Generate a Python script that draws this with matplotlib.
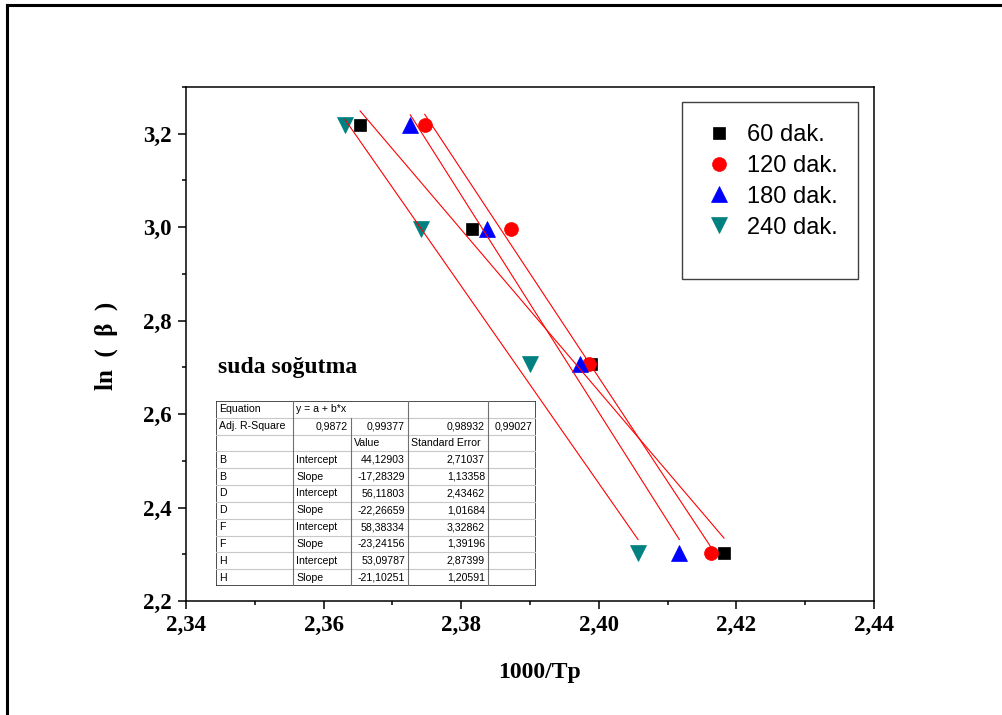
import matplotlib
matplotlib.use("Agg")
import matplotlib.pyplot as plt
import numpy as np
from matplotlib.lines import Line2D
from matplotlib.patches import Rectangle
from matplotlib.ticker import FuncFormatter, MultipleLocator

W, H = 1003, 715

# ln(beta) for the four heating rates
ln_beta = [3.2189, 2.9957, 2.7081, 2.3026]

# 1000/Tp, one list per cooling time
x_60 = [2.3653, 2.3815, 2.3988, 2.4182]
x_120 = [2.3747, 2.3872, 2.3986, 2.4163]
x_180 = [2.3726, 2.3837, 2.3973, 2.4117]
x_240 = [2.3631, 2.3741, 2.3900, 2.4057]

labels = ["60 dak.", "120 dak.", "180 dak.", "240 dak."]

# linear fit results (Origin table)
fit_names = ["B", "D", "F", "H"]
intercepts = [44.12903, 56.11803, 58.38334, 53.09787]
slopes = [-17.28329, -22.26659, -23.24156, -21.10251]
intercept_se = [2.71037, 2.43462, 3.32862, 2.87399]
slope_se = [1.13358, 1.01684, 1.39196, 1.20591]
adj_r2 = ["0,9872", "0,99377", "0,98932", "0,99027"]


def comma(v, fmt):
    return fmt.format(v).replace(".", ",")


def px_fig(x, y):
    return x / W, 1 - y / H


fig = plt.figure(figsize=(W / 100, H / 100), dpi=100)
ax = fig.add_axes([186 / W, 1 - 601 / H, 688 / W, 514 / H])

series = [
    (x_60, "s", "black", 8.6),
    (x_120, "o", "red", 10.0),
    (x_180, "^", "blue", 11.0),
    (x_240, "v", "#008080", 11.0),
]

handles = []
for (xs, mk, col, ms), lab in zip(series, labels):
    h, = ax.plot(xs, ln_beta, linestyle="none", marker=mk, color=col,
                 markersize=ms, markeredgewidth=0.5, label=lab, zorder=3)
    handles.append(h)

# fit lines over each series' x range
for (xs, mk, col, ms), a, b in zip(series, intercepts, slopes):
    xx = np.array([min(xs), max(xs)])
    ax.plot(xx, a + b * xx, color="red", linewidth=0.8, zorder=4)

ax.set_xlim(2.34, 2.44)
ax.set_ylim(2.2, 3.3)
ax.xaxis.set_major_locator(MultipleLocator(0.02))
ax.xaxis.set_minor_locator(MultipleLocator(0.01))
ax.yaxis.set_major_locator(MultipleLocator(0.2))
ax.yaxis.set_minor_locator(MultipleLocator(0.1))
ax.xaxis.set_major_formatter(FuncFormatter(lambda v, p: comma(v, "{:.2f}")))
ax.yaxis.set_major_formatter(FuncFormatter(lambda v, p: comma(v, "{:.1f}")))

ax.tick_params(which="both", direction="out", top=False, right=False, width=1.1)
ax.tick_params(which="major", length=6, labelsize=16.5, pad=4)
ax.tick_params(which="minor", length=3)
for lab in ax.get_xticklabels() + ax.get_yticklabels():
    lab.set_family("Liberation Serif")
    lab.set_fontweight("bold")
for sp in ax.spines.values():
    sp.set_linewidth(1.1)

ax.set_xlabel("1000/Tp", family="Liberation Serif", fontweight="bold", fontsize=17)
ax.set_ylabel("ln  (  β  )", family="Liberation Serif", fontweight="bold", fontsize=18)
ax.xaxis.set_label_coords(0.5145, -0.118)
ax.yaxis.set_label_coords(-0.099, 0.496)

# legend box
lx0, ly0 = px_fig(682, 279)
lx1, ly1 = px_fig(858, 102)
fig.add_artist(Rectangle((lx0, ly0), lx1 - lx0, ly1 - ly0, transform=fig.transFigure,
                         facecolor="white", edgecolor="#404040", linewidth=1.0, zorder=5))
leg = fig.legend(handles=handles, loc="upper left", bbox_to_anchor=px_fig(693, 112),
                 frameon=False, prop={"family": "Liberation Sans", "size": 17},
                 handlelength=1.2, handletextpad=0.6, labelspacing=0.38,
                 borderpad=0.0)
leg.set_zorder(6)

fx, fy = px_fig(218, 373)
fig.text(fx, fy, "suda soğutma", family="Liberation Serif", fontweight="bold",
         fontsize=17, va="baseline", ha="left")

# fit results table
tab = fig.add_axes([216 / W, 1 - 586 / H, 320 / W, 185 / H])
tab.set_xlim(0, 320)
tab.set_ylim(185, 0)
tab.axis("off")
rh = 185 / 11
cols = [0, 77, 135, 192, 272, 320]
for i in range(1, 11):
    tab.plot([0, 320], [i * rh, i * rh], color="#c8c8c8", linewidth=0.8)
for c in [77, 192, 272]:
    tab.plot([c, c], [0, 185], color="#707070", linewidth=0.8)
tab.plot([135, 135], [rh, 185], color="#707070", linewidth=0.8)
tab.add_patch(Rectangle((0, 0), 320, 185, fill=False, edgecolor="#303030", linewidth=1.2))

tf = dict(family="Liberation Sans", fontsize=7.6, va="center")


def cell_left(col, row, s):
    tab.text(cols[col] + 3, (row + 0.5) * rh, s, ha="left", **tf)


def cell_right(col, row, s):
    tab.text(cols[col + 1] - 3, (row + 0.5) * rh, s, ha="right", **tf)


cell_left(0, 0, "Equation")
cell_left(1, 0, "y = a + b*x")
cell_left(0, 1, "Adj. R-Square")
for k, r in enumerate(adj_r2):
    cell_right(k + 1, 1, r)
cell_left(2, 2, "Value")
cell_left(3, 2, "Standard Error")
row = 3
for n, a, b, sa, sb in zip(fit_names, intercepts, slopes, intercept_se, slope_se):
    for kind, val, se in [("Intercept", a, sa), ("Slope", b, sb)]:
        cell_left(0, row, n)
        cell_left(1, row, kind)
        cell_right(2, row, comma(val, "{:.5f}"))
        cell_right(3, row, comma(se, "{:.5f}"))
        row += 1

# outer page frame (cut at right and bottom)
fig.add_artist(Line2D([7 / W, 1], [1 - 5 / H, 1 - 5 / H], color="black", linewidth=2.2))
fig.add_artist(Line2D([7 / W, 7 / W], [0, 1 - 5 / H], color="black", linewidth=2.2))

fig.savefig("out.png", dpi=100)
